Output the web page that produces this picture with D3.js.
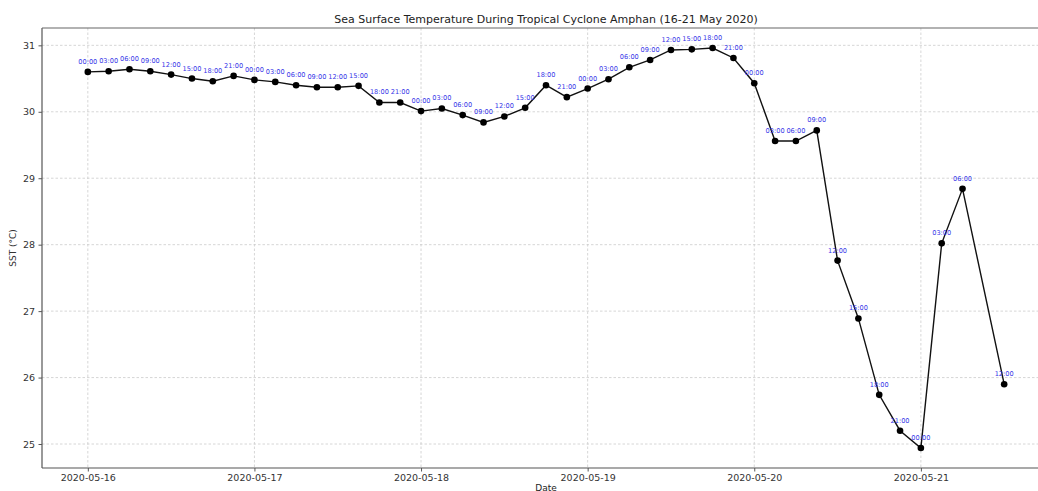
<!DOCTYPE html>
<html>
<head>
<meta charset="utf-8">
<script src="https://cdn.jsdelivr.net/npm/d3@7"></script>
<style>
  html, body { margin: 0; padding: 0; background: #fff; }
  svg { display: block; font-family: "DejaVu Sans", sans-serif; }
</style>
</head>
<body>
<svg id="chart" width="1038" height="491"></svg>
<script>
// ---- data ----
const times = [
  "2020-05-16T00:00","2020-05-16T03:00","2020-05-16T06:00","2020-05-16T09:00",
  "2020-05-16T12:00","2020-05-16T15:00","2020-05-16T18:00","2020-05-16T21:00",
  "2020-05-17T00:00","2020-05-17T03:00","2020-05-17T06:00","2020-05-17T09:00",
  "2020-05-17T12:00","2020-05-17T15:00","2020-05-17T18:00","2020-05-17T21:00",
  "2020-05-18T00:00","2020-05-18T03:00","2020-05-18T06:00","2020-05-18T09:00",
  "2020-05-18T12:00","2020-05-18T15:00","2020-05-18T18:00","2020-05-18T21:00",
  "2020-05-19T00:00","2020-05-19T03:00","2020-05-19T06:00","2020-05-19T09:00",
  "2020-05-19T12:00","2020-05-19T15:00","2020-05-19T18:00","2020-05-19T21:00",
  "2020-05-20T00:00","2020-05-20T03:00","2020-05-20T06:00","2020-05-20T09:00",
  "2020-05-20T12:00","2020-05-20T15:00","2020-05-20T18:00","2020-05-20T21:00",
  "2020-05-21T00:00","2020-05-21T03:00","2020-05-21T06:00","2020-05-21T12:00"
];
const sst = [
  30.60, 30.61, 30.64, 30.61, 30.56, 30.50, 30.46, 30.54,
  30.48, 30.45, 30.40, 30.37, 30.37, 30.39, 30.14, 30.14,
  30.01, 30.05, 29.95, 29.84, 29.93, 30.06, 30.40, 30.22,
  30.35, 30.49, 30.67, 30.78, 30.93, 30.94, 30.96, 30.81,
  30.43, 29.56, 29.56, 29.72, 27.76, 26.89, 25.74, 25.20,
  24.94, 28.02, 28.84, 25.90
];
const xTickLabels = ["2020-05-16","2020-05-17","2020-05-18","2020-05-19","2020-05-20","2020-05-21"];
const yTickValues = [25, 26, 27, 28, 29, 30, 31];
const titleText = "Sea Surface Temperature During Tropical Cyclone Amphan (16-21 May 2020)";
const xLabel = "Date";
const yLabel = "SST (°C)";

// ---- layout ----
const mLeft = 42, mRight = 1050, mTop = 28, mBottom = 468;
const svg = d3.select("#chart");
const parse = d3.utcParse("%Y-%m-%dT%H:%M");
const data = times.map((t, i) => ({ date: parse(t), v: sst[i], lab: d3.utcFormat("%H:%M")(parse(t)) }));

const tExt = d3.extent(data, d => d.date);
const tPad = (tExt[1] - tExt[0]) * 0.05;
const x = d3.scaleUtc()
  .domain([new Date(+tExt[0] - tPad), new Date(+tExt[1] + tPad)])
  .range([mLeft, mRight]);
const vExt = d3.extent(sst);
const vPad = (vExt[1] - vExt[0]) * 0.05;
const y = d3.scaleLinear().domain([vExt[0] - vPad, vExt[1] + vPad]).range([mBottom, mTop]);

const xTickDates = xTickLabels.map(s => d3.utcParse("%Y-%m-%d")(s));

// grid
const grid = svg.append("g");
grid.selectAll("line.gy").data(yTickValues).join("line")
  .attr("x1", mLeft).attr("x2", mRight)
  .attr("y1", d => y(d)).attr("y2", d => y(d))
  .attr("stroke", "#cccccc").attr("stroke-width", 0.8).attr("stroke-dasharray", "2.5,2");
grid.selectAll("line.gx").data(xTickDates).join("line")
  .attr("x1", d => x(d)).attr("x2", d => x(d))
  .attr("y1", mTop).attr("y2", mBottom)
  .attr("stroke", "#cccccc").attr("stroke-width", 0.8).attr("stroke-dasharray", "2.5,2");

// axes
const xAxis = d3.axisBottom(x).tickValues(xTickDates)
  .tickFormat(d3.utcFormat("%Y-%m-%d")).tickSize(3.5).tickPadding(3);
const yAxis = d3.axisLeft(y).tickValues(yTickValues)
  .tickFormat(d3.format("d")).tickSize(3.5).tickPadding(3.5);

const gx = svg.append("g").attr("transform", `translate(0,${mBottom})`).call(xAxis);
const gy = svg.append("g").attr("transform", `translate(${mLeft},0)`).call(yAxis);
[gx, gy].forEach(g => {
  g.select(".domain").remove();
  g.selectAll(".tick line").attr("stroke", "#444").attr("stroke-width", 0.9);
  g.selectAll(".tick text").attr("fill", "#333").style("font-size", "9.5px")
    .style("font-family", "DejaVu Sans, sans-serif");
});

// spines
svg.append("line").attr("x1", mLeft).attr("x2", mLeft).attr("y1", mTop).attr("y2", mBottom)
  .attr("stroke", "#555").attr("stroke-width", 1.2);
svg.append("line").attr("x1", mLeft).attr("x2", mRight).attr("y1", mBottom).attr("y2", mBottom)
  .attr("stroke", "#555").attr("stroke-width", 1.2);
svg.append("line").attr("x1", mLeft).attr("x2", mRight).attr("y1", mTop).attr("y2", mTop)
  .attr("stroke", "#666").attr("stroke-width", 1.2);
svg.append("line").attr("x1", mRight).attr("x2", mRight).attr("y1", mTop).attr("y2", mBottom)
  .attr("stroke", "#555").attr("stroke-width", 1.2);

// line + markers
const line = d3.line().x(d => x(d.date)).y(d => y(d.v));
svg.append("path").datum(data).attr("d", line)
  .attr("fill", "none").attr("stroke", "#111").attr("stroke-width", 1.4);
svg.append("g").selectAll("circle").data(data).join("circle")
  .attr("cx", d => x(d.date)).attr("cy", d => y(d.v)).attr("r", 3.3).attr("fill", "#000");

// point labels
svg.append("g").selectAll("text").data(data).join("text")
  .attr("x", d => x(d.date)).attr("y", d => y(d.v) - 8)
  .attr("text-anchor", "middle")
  .attr("fill", "#3535e8")
  .style("font-size", "6.6px")
  .text(d => d.lab);

// title and axis labels
svg.append("text").attr("x", (mLeft + mRight) / 2).attr("y", 23)
  .attr("text-anchor", "middle").attr("fill", "#222").style("font-size", "11px").text(titleText);
svg.append("text").attr("x", (mLeft + mRight) / 2).attr("y", 490.5)
  .attr("text-anchor", "middle").attr("fill", "#222").style("font-size", "9px").text(xLabel);
svg.append("text").attr("transform", `translate(16,${(mTop + mBottom) / 2}) rotate(-90)`)
  .attr("text-anchor", "middle").attr("fill", "#333").style("font-size", "9px").text(yLabel);
</script>
</body>
</html>
